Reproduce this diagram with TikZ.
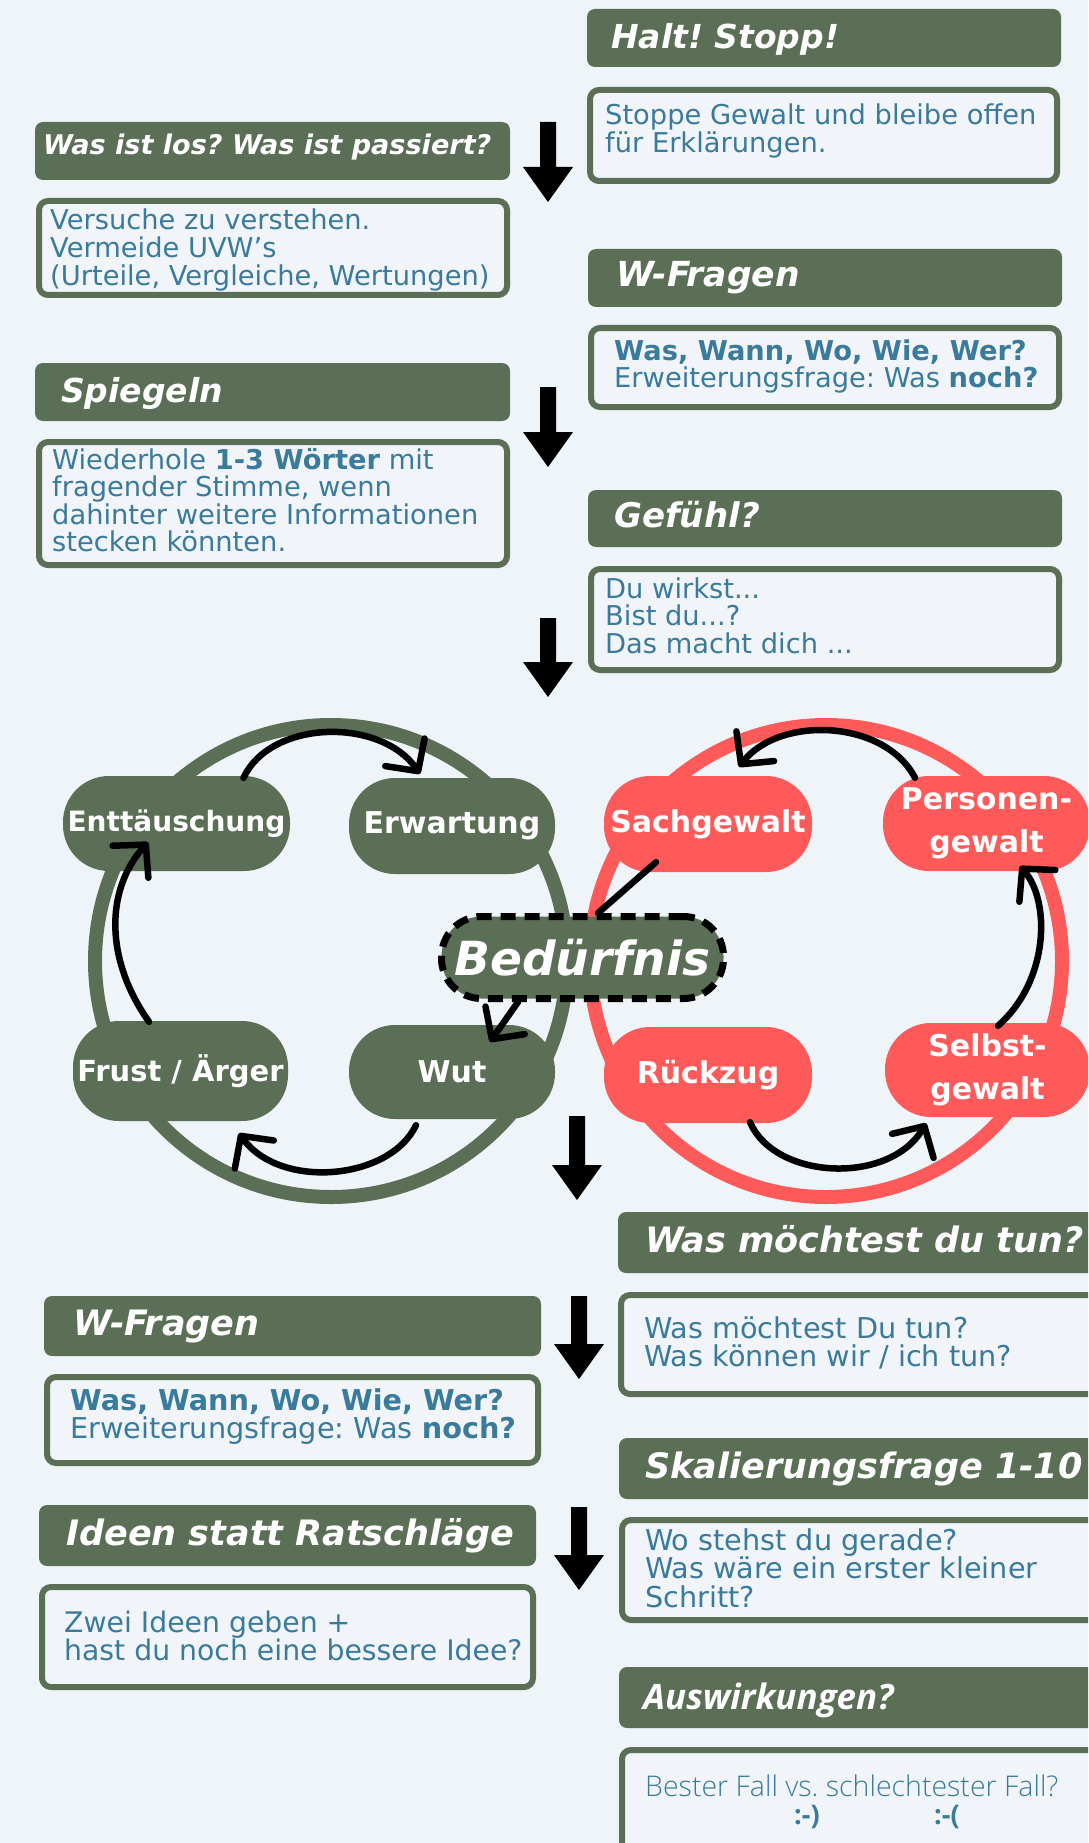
\documentclass[tikz,border=0pt]{standalone}
\usepackage{fontspec}
\setmainfont{DejaVu Sans}
\newfontfamily\opensans{Open Sans}
\newfontfamily\opensanslight{Open Sans Light}
\usetikzlibrary{arrows.meta,calc}
\pgfdeclarelayer{top}
\pgfsetlayers{main,top}

\definecolor{bg}{HTML}{EFF4F9}
\definecolor{hgreen}{HTML}{5B6E56}
\definecolor{tblue}{HTML}{3A7A9B}
\definecolor{cred}{HTML}{FF5A5A}
\definecolor{boxfill}{HTML}{F1F5FA}

% stacked left-aligned lines whose baseline is the first line
\newcommand\rows[1]{\vtop{\halign{##\hfil\cr#1\crcr}}}

\begin{document}
\frenchspacing
\begin{tikzpicture}[x=1pt,y=-1pt,
  hdr/.style={fill=hgreen, rounded corners=8pt, anchor=north west, inner sep=0pt, outer sep=0pt},
  bbox/.style={draw=hgreen, line width=6pt, fill=boxfill, rounded corners=9pt, anchor=north west, inner sep=0pt, outer sep=0pt},
  htext/.style={anchor=base west, inner sep=0pt, text=white, font=\fontsize{33}{36}\selectfont\bfseries\itshape},
  htextb/.style={htext, font=\fontsize{35}{38}\selectfont\bfseries\itshape},
  btext/.style={anchor=base west, inner sep=0pt, text=tblue, font=\fontsize{27.3}{27.6}\selectfont},
  btextb/.style={btext, font=\fontsize{28.7}{28.6}\selectfont},
  pill/.style={rounded corners=46pt, text=white, inner sep=0pt, align=center, font=\fontsize{30}{43}\selectfont\bfseries},
  gpill/.style={pill, fill=hgreen},
  rpill/.style={pill, fill=cred},
  cyc/.style={draw=black, line width=6.5pt, line cap=round, -{Straight Barb[length=23pt,width=48pt,round]}},
  bigarrow/.pic={\fill[black] (-8,0) -- (8,0) -- (8,#1-35) -- (25,#1-35) -- (0,#1) -- (-25,#1-35) -- (-8,#1-35) -- cycle;}
]
\useasboundingbox (0,0) rectangle (1088,1843);
\clip (0,0) rectangle (1088,1843);
\fill[bg] (0,0) rectangle (1088,1843);

% ---------- upper steps ----------
\node[hdr, minimum width=474pt, minimum height=58pt] (h1) at (587,9) {};
\node[htext] (h1t) at (611,49) {Halt! Stopp!};
\node[bbox, minimum width=467pt, minimum height=91pt] (b1) at (590,90) {};
\node[btext] (b1t) at (605,125) {\rows{Stoppe Gewalt und bleibe offen\cr für Erklärungen.}};

\node[hdr, minimum width=475pt, minimum height=58pt] (h2) at (35,122) {};
\node[htext, font=\fontsize{27.1}{30}\selectfont\bfseries\itshape] (h2t) at (43,155) {Was ist los? Was ist passiert?};
\node[bbox, minimum width=468pt, minimum height=94pt] (b2) at (39,201) {};
\node[btext] (b2t) at (50,230) {\rows{Versuche zu verstehen.\cr Vermeide UVW’s\cr (Urteile, Vergleiche, Wertungen)}};

\node[hdr, minimum width=474pt, minimum height=58pt] (h3) at (588,249) {};
\node[htext, font=\fontsize{34.5}{36}\selectfont\bfseries\itshape] (h3t) at (616,287) {W-Fragen};
\node[bbox, minimum width=468pt, minimum height=79pt] (b3) at (591,328) {};
\node[btext] (b3t) at (614,360) {\rows{\bfseries Was, Wann, Wo, Wie, Wer?\cr Erweiterungsfrage: Was {\bfseries noch?}}};

\node[hdr, minimum width=475pt, minimum height=58pt] (h4) at (35,363) {};
\node[htext] (h4t) at (61,402) {Spiegeln};
\node[bbox, minimum width=468pt, minimum height=123pt] (b4) at (39,442) {};
\node[btext] (b4t) at (52,469) {\rows{Wiederhole {\bfseries 1-3 Wörter} mit\cr fragender Stimme, wenn\cr dahinter weitere Informationen\cr stecken könnten.}};

\node[hdr, minimum width=474pt, minimum height=57pt] (h5) at (588,490) {};
\node[htext, font=\fontsize{34}{36}\selectfont\bfseries\itshape] (h5t) at (614,527) {Gefühl?};
\node[bbox, minimum width=468pt, minimum height=101pt] (b5) at (591,569) {};
\node[btext] (b5t) at (605,598) {\rows{Du wirkst...\cr Bist du...?\cr Das macht dich ...}};

\pic at (548,122) {bigarrow=80};
\pic at (548,387) {bigarrow=80};
\pic at (548,618) {bigarrow=79};

% ---------- the two cycles ----------
\draw[hgreen, line width=14pt] (331,961) circle[radius=236];
\draw[cred, line width=14pt] (826,961) circle[radius=236];

\node[gpill, minimum width=227pt, minimum height=95pt, font=\fontsize{28}{43}\selectfont\bfseries] (ent) at (176.5,823.5) {Enttäuschung};
\node[gpill, minimum width=206pt, minimum height=96pt] (erw) at (452,826) {Erwartung};
\node[gpill, minimum width=215pt, minimum height=100pt, font=\fontsize{29}{43}\selectfont\bfseries] (fru) at (180.5,1071) {Frust / Ärger};
\node[gpill, minimum width=206pt, minimum height=94pt] (wut) at (452,1072) {Wut};
\node[rpill, minimum width=208pt, minimum height=96pt] (sac) at (708,824) {Sachgewalt};
\node[rpill, minimum width=207pt, minimum height=95pt] (per) at (986.5,823.5) {Personen-\\gewalt};
\node[rpill, minimum width=208pt, minimum height=96pt] (rue) at (708,1075) {Rückzug};
\node[rpill, minimum width=205pt, minimum height=94pt] (sel) at (987.5,1070) {Selbst-\\gewalt};

% the central need sits above every line that touches it
\begin{pgfonlayer}{top}
\node[fill=hgreen, draw=black, line width=7pt, dash pattern=on 15pt off 9pt, rounded corners=40pt,
      minimum width=282pt, minimum height=82pt, inner sep=0pt, text=white,
      font=\fontsize{47}{50}\selectfont\bfseries\itshape] (bed) at (582.5,957.5) {Bedürfnis};
\end{pgfonlayer}

\draw[cyc] ($(ent.north)+(67,2)$) .. controls +(27,-58) and +(-40,-57) .. ($(erw.north)+(-32,-4)$);
\draw[cyc] ($(fru.north)+(-31.5,1)$) .. controls +(-44,-62) and +(-43,48) .. ($(ent.south)+(-28.5,-29)$);
\draw[cyc] ($(wut.south)+(-36,6)$) .. controls +(-26,55) and +(41,57) .. ($(fru.south)+(58.5,12)$);
\draw[cyc] ($(per.north)+(-71.5,2)$) .. controls +(-30,-58) and +(41,-52) .. ($(sac.north)+(31,-9)$);
\draw[cyc] ($(sel.north)+(10.5,3)$) .. controls +(52,-46) and +(30,34) .. ($(per.south)+(33.5,-5)$);
\draw[cyc] ($(rue.south)+(42,-1)$) .. controls +(25,58) and +(-36,62) .. ($(sel.south)+(-61.5,6)$);
\draw[black, line width=6.5pt, line cap=round] ($(sac.south)+(-52,-10)$) -- ($(bed.north)+(15.5,0)$);
\draw[cyc] ($(bed.south)+(-64.5,0)$) -- ($(wut.north)+(38,17)$);

\pic at (577,1116) {bigarrow=84};

% ---------- lower steps ----------
\node[hdr, minimum width=490pt, minimum height=61pt] (h6) at (618,1212) {};
\node[htextb] (h6t) at (645,1252) {Was möchtest du tun?};
\node[bbox, minimum width=500pt, minimum height=99pt] (b6) at (621,1295) {};
\node[btextb] (b6t) at (644,1338) {\rows{Was möchtest Du tun?\cr Was können wir / ich tun?}};

\node[hdr, minimum width=497pt, minimum height=60pt] (h7) at (44,1296) {};
\node[htextb] (h7t) at (73,1335) {W-Fragen};
\node[bbox, minimum width=491pt, minimum height=86pt] (b7) at (47,1377) {};
\node[btextb] (b7t) at (70,1410) {\rows{\bfseries Was, Wann, Wo, Wie, Wer?\cr Erweiterungsfrage: Was {\bfseries noch?}}};

\node[hdr, minimum width=490pt, minimum height=61pt] (h8) at (619,1438) {};
\node[htextb] (h8t) at (645,1478) {Skalierungsfrage 1-10};
\node[bbox, minimum width=500pt, minimum height=100pt] (b8) at (622,1520) {};
\node[btextb] (b8t) at (645,1550) {\rows{Wo stehst du gerade?\cr Was wäre ein erster kleiner\cr Schritt?}};

\node[hdr, minimum width=497pt, minimum height=61pt] (h9) at (39,1505) {};
\node[htextb] (h9t) at (66,1545) {Ideen statt Ratschläge};
\node[bbox, minimum width=491pt, minimum height=100pt] (b9) at (42,1587) {};
\node[btext, font=\fontsize{28.3}{28}\selectfont] (b9t) at (64,1632) {\rows{Zwei Ideen geben +\cr hast du noch eine bessere Idee?}};

\node[hdr, minimum width=490pt, minimum height=61pt] (h10) at (619,1667) {};
\node[htext, font=\fontsize{35}{38}\selectfont\opensans\bfseries\itshape] (h10t) at (643,1709) {Auswirkungen?};
\node[bbox, minimum width=500pt, minimum height=120pt] (b10) at (622,1750) {};
\node[btext, font=\fontsize{28.5}{28}\selectfont\opensanslight] (b10t) at (645,1796) {Bester Fall vs. schlechtester Fall?};
\node[btext, font=\fontsize{27}{28}\selectfont\opensans\bfseries] (sm1) at (794,1824) {:-)};
\node[btext, font=\fontsize{27}{28}\selectfont\opensans\bfseries] (sm2) at (934,1824) {:-(};

\pic at (579,1296) {bigarrow=83};
\pic at (579,1507) {bigarrow=83};
\end{tikzpicture}
\end{document}
